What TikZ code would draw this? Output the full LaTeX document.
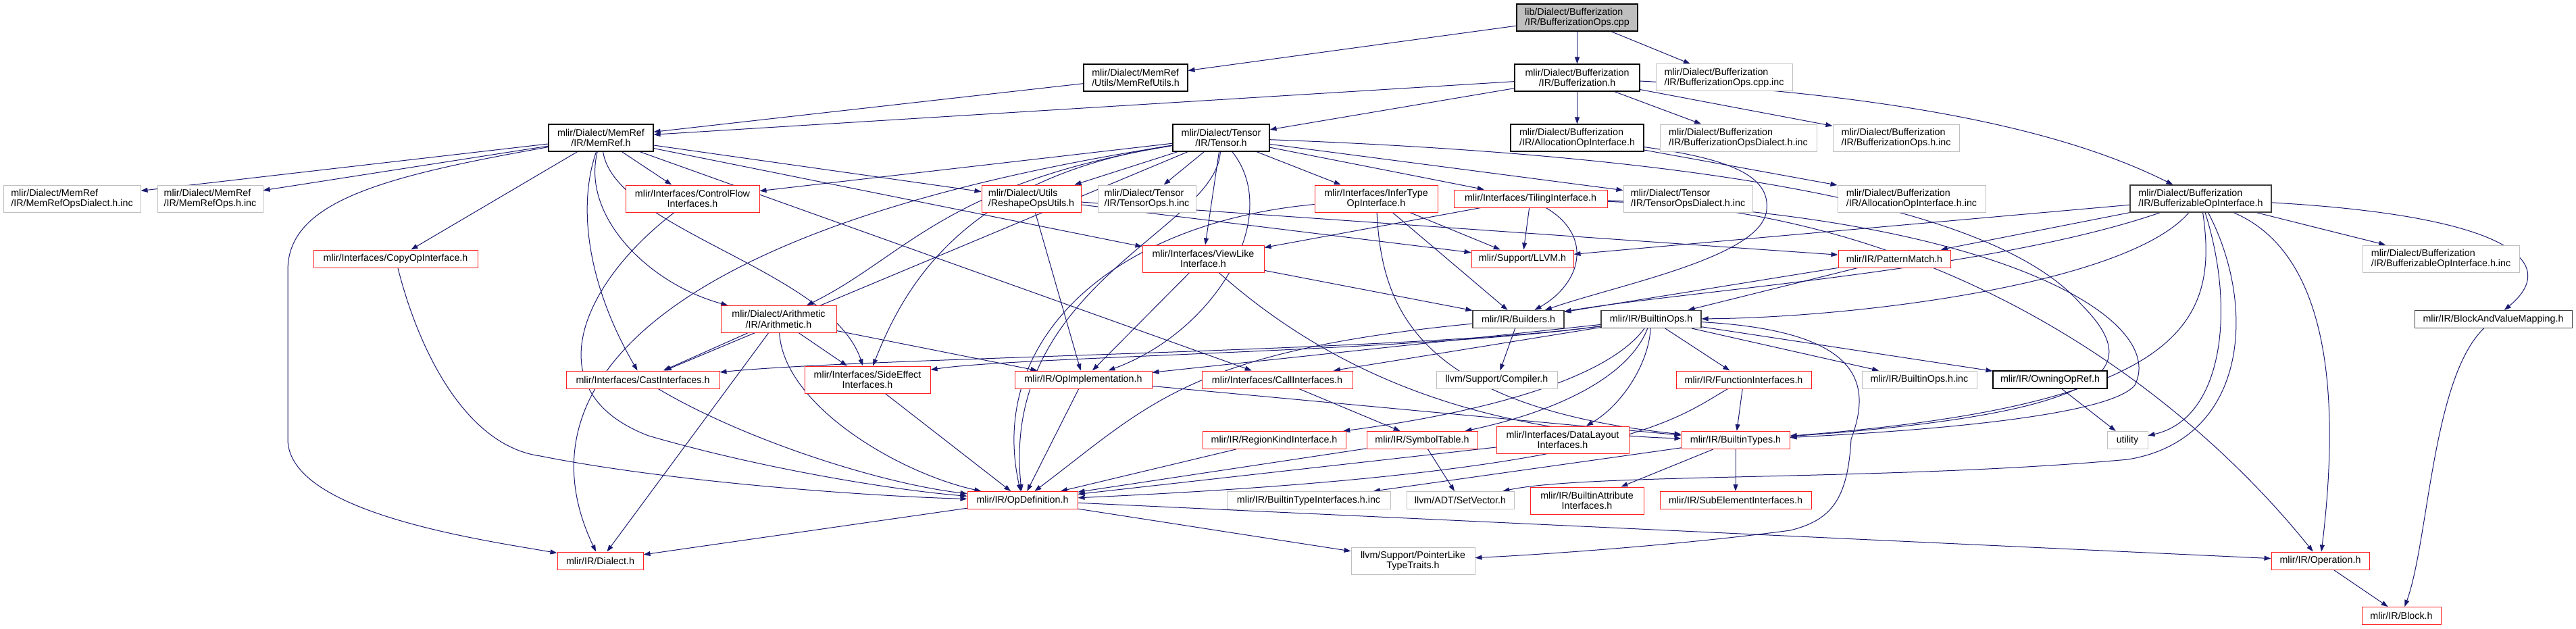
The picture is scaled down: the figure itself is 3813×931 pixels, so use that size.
\documentclass[tikz,border=0pt]{standalone}
\usepackage{fontspec}
\setmainfont{Liberation Sans}
\usetikzlibrary{arrows.meta}
\definecolor{edgecol}{HTML}{191970}
\definecolor{redb}{HTML}{FF2020}
\definecolor{grayb}{HTML}{BFBFBF}
\definecolor{darkb}{HTML}{404040}
\pgfdeclarelayer{bg}
\pgfsetlayers{bg,main}
\tikzset{
 nd/.style={draw, fill=white, line width=1pt, inner sep=0pt, font=\fontsize{14.3}{15.3}\selectfont, minimum height=26pt},
 two/.style={minimum height=40pt},
 blk/.style={nd, draw=black, line width=1.1pt},
 dk/.style={nd, draw=darkb, line width=1.1pt},
 rd/.style={nd, draw=redb},
 gr/.style={nd, draw=grayb},
 edge/.style={draw=edgecol, line width=1pt, -{Triangle[length=10pt,width=7pt]}},
}
\begin{document}
\begin{tikzpicture}[x=1pt,y=-1pt]
\useasboundingbox (0,0) rectangle (3813,931);
% row 1-3
\node[blk, two, fill=grayb, minimum width=179pt, align=left] (root) at (2334.5,26) {lib/Dialect/Bufferization\\/IR/BufferizationOps.cpp};
\node[blk, two, minimum width=154pt, align=left] (memrefutils) at (1681,115) {mlir/Dialect/MemRef\\/Utils/MemRefUtils.h};
\node[blk, two, minimum width=185pt, align=center] (bufh) at (2334.5,115) {mlir/Dialect/Bufferization\\/IR/Bufferization.h};
\node[gr, two, minimum width=202pt, align=left] (bufcppinc) at (2552,115) {mlir/Dialect/Bufferization\\/IR/BufferizationOps.cpp.inc};
\node[blk, two, minimum width=155pt, align=center] (memref) at (889.5,204) {mlir/Dialect/MemRef\\/IR/MemRef.h};
\node[blk, two, minimum width=143pt, align=center] (tensor) at (1807.5,204) {mlir/Dialect/Tensor\\/IR/Tensor.h};
\node[blk, two, minimum width=197pt, align=left] (allocop) at (2334.5,204) {mlir/Dialect/Bufferization\\/IR/AllocationOpInterface.h};
\node[gr, two, minimum width=232pt, align=left] (bufdialectinc) at (2573,204) {mlir/Dialect/Bufferization\\/IR/BufferizationOpsDialect.h.inc};
\node[gr, two, minimum width=187pt, align=left] (bufopsinc) at (2806.5,204) {mlir/Dialect/Bufferization\\/IR/BufferizationOps.h.inc};
% row 4
\node[gr, two, minimum width=203pt, align=left] (memrefdialectinc) at (106.5,294) {mlir/Dialect/MemRef\\/IR/MemRefOpsDialect.h.inc};
\node[gr, two, minimum width=156pt, align=left] (memrefopsinc) at (311,294) {mlir/Dialect/MemRef\\/IR/MemRefOps.h.inc};
\node[rd, two, minimum width=198pt, align=center] (controlflow) at (1025,294) {mlir/Interfaces/ControlFlow\\Interfaces.h};
\node[rd, two, minimum width=147pt, align=left] (reshape) at (1526.5,294) {mlir/Dialect/Utils\\/ReshapeOpsUtils.h};
\node[gr, two, minimum width=145pt, align=left] (tensoropsinc) at (1697.5,294) {mlir/Dialect/Tensor\\/IR/TensorOps.h.inc};
\node[rd, two, minimum width=182pt, align=center] (infertype) at (2037,294) {mlir/Interfaces/InferType\\OpInterface.h};
\node[rd, minimum width=227pt] (tiling) at (2265.5,294) {mlir/Interfaces/TilingInterface.h};
\node[gr, two, minimum width=191pt, align=left] (tensordialectinc) at (2498.5,294) {mlir/Dialect/Tensor\\/IR/TensorOpsDialect.h.inc};
\node[gr, two, minimum width=219pt, align=left] (allocopinc) at (2829.5,294) {mlir/Dialect/Bufferization\\/IR/AllocationOpInterface.h.inc};
\node[dk, two, minimum width=209pt, align=left] (bufferizable) at (3257.5,294) {mlir/Dialect/Bufferization\\/IR/BufferizableOpInterface.h};
% row 5
\node[rd, minimum width=243pt] (copyop) at (585.5,383) {mlir/Interfaces/CopyOpInterface.h};
\node[rd, two, minimum width=180pt, align=center] (viewlike) at (1781,383) {mlir/Interfaces/ViewLike\\Interface.h};
\node[rd, minimum width=151pt] (llvm) at (2253.5,383) {mlir/Support/LLVM.h};
\node[rd, minimum width=166pt] (patternmatch) at (2804,383) {mlir/IR/PatternMatch.h};
\node[gr, two, minimum width=232pt, align=left] (bufinc) at (3613,383) {mlir/Dialect/Bufferization\\/IR/BufferizableOpInterface.h.inc};
% row 6
\node[rd, two, minimum width=171pt, align=center] (arith) at (1152.5,472.5) {mlir/Dialect/Arithmetic\\/IR/Arithmetic.h};
\node[dk, minimum width=135pt] (builders) at (2247.5,472.5) {mlir/IR/Builders.h};
\node[dk, minimum width=148pt] (builtinops) at (2444,472.5) {mlir/IR/BuiltinOps.h};
\node[dk, minimum width=233pt] (bvmap) at (3690.5,472.5) {mlir/IR/BlockAndValueMapping.h};
% row 7
\node[rd, minimum width=227pt] (cast) at (951.5,562) {mlir/Interfaces/CastInterfaces.h};
\node[rd, two, minimum width=186pt, align=center] (sideeffect) at (1284,562) {mlir/Interfaces/SideEffect\\Interfaces.h};
\node[rd, minimum width=203pt] (opimpl) at (1603.5,562) {mlir/IR/OpImplementation.h};
\node[rd, minimum width=223pt] (call) at (1890.5,562) {mlir/Interfaces/CallInterfaces.h};
\node[gr, minimum width=179pt] (compiler) at (2215.5,562) {llvm/Support/Compiler.h};
\node[rd, minimum width=200pt] (funcif) at (2581,562) {mlir/IR/FunctionInterfaces.h};
\node[gr, minimum width=170pt] (builtinopsinc) at (2841,562) {mlir/IR/BuiltinOps.h.inc};
\node[blk, minimum width=169pt] (owning) at (3034.5,562) {mlir/IR/OwningOpRef.h};
% row 8
\node[rd, minimum width=212pt] (regionkind) at (1886,651.5) {mlir/IR/RegionKindInterface.h};
\node[rd, minimum width=164pt] (symtab) at (2105,651.5) {mlir/IR/SymbolTable.h};
\node[rd, two, minimum width=196pt, align=center] (datalayout) at (2313,651) {mlir/Interfaces/DataLayout\\Interfaces.h};
\node[rd, minimum width=160pt] (builtintypes) at (2569,651.5) {mlir/IR/BuiltinTypes.h};
\node[gr, minimum width=60pt] (utility) at (3149,651.5) {utility};
% row 9
\node[rd, minimum width=163pt] (opdef) at (1513.5,740.5) {mlir/IR/OpDefinition.h};
\node[gr, minimum width=242pt] (btinc) at (1937,740.5) {mlir/IR/BuiltinTypeInterfaces.h.inc};
\node[gr, minimum width=159pt] (setvector) at (2161.5,740.5) {llvm/ADT/SetVector.h};
\node[rd, two, minimum width=168pt, align=center] (battr) at (2349,741) {mlir/IR/BuiltinAttribute\\Interfaces.h};
\node[rd, minimum width=224pt] (subelem) at (2569,740.5) {mlir/IR/SubElementInterfaces.h};
% row 10-11
\node[rd, minimum width=127pt] (dialect) at (888.5,830) {mlir/IR/Dialect.h};
\node[gr, two, minimum width=183pt, align=center] (pointerlike) at (2091.5,830) {llvm/Support/PointerLike\\TypeTraits.h};
\node[rd, minimum width=145pt] (operation) at (3434.5,830) {mlir/IR/Operation.h};
\node[rd, minimum width=117pt] (block) at (3554.5,911.5) {mlir/IR/Block.h};

\begin{pgfonlayer}{bg}
% root
\draw[edge] (root) -- (memrefutils);
\draw[edge] (root) -- (bufh);
\draw[edge] (root) -- (bufcppinc);
\draw[edge] (memrefutils) -- (memref);
% Bufferization.h
\draw[edge] (bufh) -- (memref);
\draw[edge] (bufh) -- (tensor);
\draw[edge] (bufh) -- (allocop);
\draw[edge] (bufh) -- (bufdialectinc);
\draw[edge] (bufh) -- (bufopsinc);
\draw[edge] (bufh) .. controls (2800,140) and (3050,190) .. (bufferizable);
% MemRef.h
\draw[edge] (memref) -- (memrefdialectinc);
\draw[edge] (memref) -- (memrefopsinc);
\draw[edge] (memref) .. controls (560,262) and (426,300) .. (426,400) -- (426,650) .. controls (426,760) and (720,800) .. (dialect);
\draw[edge] (memref) -- (copyop);
\draw[edge] (memref) -- (controlflow);
\draw[edge] (memref) .. controls (860,320) and (960,420) .. (arith);
\draw[edge] (memref) .. controls (850,320) and (880,440) .. (cast);
\draw[edge] (memref) .. controls (910,340) and (1230,400) .. (sideeffect);
\draw[edge] (memref) -- (reshape);
\draw[edge] (memref) -- (viewlike);
\draw[edge] (memref) -- (call);
% Tensor.h
\draw[edge] (tensor) -- (controlflow);
\draw[edge] (tensor) -- (reshape);
\draw[edge] (tensor) -- (tensoropsinc);
\draw[edge] (tensor) -- (infertype);
\draw[edge] (tensor) -- (tiling);
\draw[edge] (tensor) -- (tensordialectinc);
\draw[edge] (tensor) -- (viewlike);
\draw[edge] (tensor) .. controls (1000,330) and (760,560) .. (dialect);
\draw[edge] (tensor) -- (cast);
\draw[edge] (tensor) .. controls (1400,270) and (1340,380) .. (arith);
\draw[edge] (tensor) .. controls (1430,262) and (1340,420) .. (sideeffect);
\draw[edge] (tensor) .. controls (1900,320) and (1800,490) .. (opimpl);
\draw[edge] (tensor) .. controls (1800,340) and (1480,420) .. (opdef);
\draw[edge] (tensor) .. controls (2500,230) and (2950,300) .. (3080,450) .. controls (3170,540) and (3150,610) .. (builtintypes);
% AllocationOpInterface.h
\draw[edge] (allocop) -- (allocopinc);
\draw[edge] (allocop) .. controls (2560,235) and (2620,260) .. (2615,310) .. controls (2610,380) and (2400,420) .. (builders);
% BufferizableOpInterface.h
\draw[edge] (bufferizable) -- (bufinc);
\draw[edge] (bufferizable) .. controls (3720,320) and (3790,390) .. (bvmap);
\draw[edge] (bufferizable) -- (patternmatch);
\draw[edge] (bufferizable) -- (llvm);
\draw[edge] (bufferizable) .. controls (2950,400) and (2500,430) .. (builders);
\draw[edge] (bufferizable) .. controls (3150,420) and (2750,470) .. (builtinops);
\draw[edge] (bufferizable) .. controls (3285,480) and (3230,600) .. (builtintypes);
\draw[edge] (bufferizable) .. controls (3310,460) and (3290,620) .. (utility);
\draw[edge] (bufferizable) .. controls (3340,450) and (3330,650) .. (3150,680) .. controls (2800,712) and (2350,700) .. (setvector);
\draw[edge] (bufferizable) .. controls (3460,380) and (3460,620) .. (operation);
% interfaces
\draw[edge] (controlflow) .. controls (860,420) and (790,580) .. (960,645) .. controls (1150,700) and (1350,728) .. (opdef);
\draw[edge] (copyop) .. controls (620,520) and (690,660) .. (800,675) .. controls (1000,715) and (1300,735) .. (opdef);
\draw[edge] (reshape) -- (opimpl);
\draw[edge] (reshape) -- (llvm);
\draw[edge] (reshape) -- (patternmatch);
\draw[edge] (infertype) .. controls (1650,330) and (1460,500) .. (opdef);
\draw[edge] (infertype) -- (llvm);
\draw[edge] (infertype) -- (builders);
\draw[edge] (infertype) .. controls (2045,450) and (2090,600) .. (builtintypes);
\draw[edge] (tiling) -- (viewlike);
\draw[edge] (tiling) -- (llvm);
\draw[edge] (tiling) .. controls (2360,350) and (2340,420) .. (builders);
\draw[edge] (tiling) .. controls (2900,310) and (3250,600) .. (operation);
\draw[edge] (tiling) .. controls (2950,320) and (3210,470) .. (3160,570) .. controls (3120,620) and (2800,640) .. (builtintypes);
\draw[edge] (viewlike) -- (opimpl);
\draw[edge] (viewlike) .. controls (1980,560) and (2200,640) .. (builtintypes);
\draw[edge] (viewlike) -- (builders);
\draw[edge] (patternmatch) -- (builders);
\draw[edge] (patternmatch) -- (builtinops);
% Arithmetic.h
\draw[edge] (arith) -- (cast);
\draw[edge] (arith) -- (dialect);
\draw[edge] (arith) .. controls (1160,600) and (1330,700) .. (opdef);
\draw[edge] (arith) -- (sideeffect);
\draw[edge] (arith) -- (opimpl);
% Builders.h
\draw[edge] (builders) -- (compiler);
\draw[edge] (builders) .. controls (1760,520) and (1700,600) .. (opdef);
% BuiltinOps.h
\draw[edge] (builtinops) .. controls (2100,520) and (1300,528) .. (cast);
\draw[edge] (builtinops) .. controls (2100,520) and (1500,528) .. (sideeffect);
\draw[edge] (builtinops) -- (opimpl);
\draw[edge] (builtinops) -- (call);
\draw[edge] (builtinops) .. controls (2380,560) and (2200,610) .. (regionkind);
\draw[edge] (builtinops) .. controls (2410,560) and (2300,610) .. (symtab);
\draw[edge] (builtinops) .. controls (2440,540) and (2400,600) .. (datalayout);
\draw[edge] (builtinops) -- (funcif);
\draw[edge] (builtinops) -- (builtinopsinc);
\draw[edge] (builtinops) -- (owning);
\draw[edge] (builtinops) .. controls (2760,490) and (2770,570) .. (2740,650) .. controls (2735,740) and (2710,770) .. (2650,785) .. controls (2500,805) and (2300,820) .. (pointerlike);
% lower
\draw[edge] (call) -- (symtab);
\draw[edge] (funcif) .. controls (2480,620) and (2400,700) .. (opdef);
\draw[edge] (funcif) -- (builtintypes);
\draw[edge] (regionkind) -- (opdef);
\draw[edge] (symtab) -- (opdef);
\draw[edge] (symtab) -- (setvector);
\draw[edge] (datalayout) -- (opdef);
\draw[edge] (builtintypes) -- (btinc);
\draw[edge] (builtintypes) -- (battr);
\draw[edge] (builtintypes) -- (subelem);
\draw[edge] (owning) -- (utility);
\draw[edge] (cast) .. controls (1100,650) and (1300,715) .. (opdef);
\draw[edge] (sideeffect) -- (opdef);
\draw[edge] (opimpl) -- (opdef);
\draw[edge] (opimpl) -- (builtintypes);
\draw[edge] (opdef) -- (dialect);
\draw[edge] (opdef) -- (operation);
\draw[edge] (opdef) -- (pointerlike);
\draw[edge] (operation) -- (block);
\draw[edge] (bvmap) .. controls (3600,560) and (3595,800) .. (block);
\end{pgfonlayer}
\end{tikzpicture}
\end{document}
